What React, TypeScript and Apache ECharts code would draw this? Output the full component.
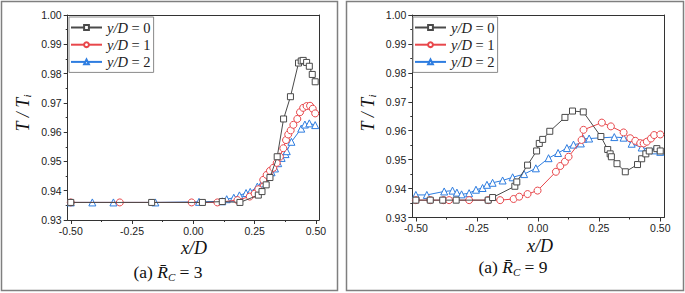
import React, { useEffect, useRef } from "react";
import * as echarts from "echarts";

// ---------- data ----------
const X_TICKS = [-0.5, -0.25, 0, 0.25, 0.5];
const X_MINOR = [-0.375, -0.125, 0.125, 0.375];
const SERIES_NAMES = ["y/D = 0", "y/D = 1", "y/D = 2"];

// Panel (a) R_C = 3
const R3_Y0: [number, number][] = [
  [-0.5, 0.936], [-0.17, 0.936], [0.037, 0.936], [0.118, 0.9363], [0.19, 0.936],
  [0.265, 0.9385], [0.28, 0.9397], [0.297, 0.942], [0.3125, 0.9445], [0.342, 0.9516],
  [0.368, 0.9645], [0.396, 0.9721], [0.429, 0.9836], [0.44, 0.9843], [0.448, 0.9845],
  [0.462, 0.9838], [0.473, 0.9825], [0.485, 0.9797], [0.497, 0.9772],
];
const R3_Y1: [number, number][] = [
  [-0.5, 0.936], [-0.3, 0.936], [-0.007, 0.936], [0.098, 0.936], [0.18, 0.9368],
  [0.23, 0.938], [0.25, 0.939], [0.265, 0.9405], [0.285, 0.9437], [0.299, 0.9454],
  [0.3125, 0.9468], [0.326, 0.9478], [0.34, 0.9495], [0.353, 0.9516], [0.367, 0.9545],
  [0.378, 0.9573], [0.387, 0.9592], [0.397, 0.9606], [0.408, 0.9625], [0.424, 0.9645],
  [0.435, 0.9668], [0.448, 0.9683], [0.462, 0.9689], [0.476, 0.969], [0.487, 0.968],
  [0.497, 0.9664],
];
const R3_Y2: [number, number][] = [
  [-0.5, 0.936], [-0.412, 0.936], [-0.326, 0.936], [-0.155, 0.936], [0.023, 0.9362],
  [0.118, 0.9364], [0.136, 0.9371], [0.165, 0.9376], [0.188, 0.9384], [0.215, 0.9392],
  [0.232, 0.9396], [0.261, 0.9414], [0.279, 0.9425], [0.289, 0.9437], [0.306, 0.945],
  [0.319, 0.9463], [0.333, 0.9476], [0.346, 0.9494], [0.36, 0.9512], [0.376, 0.9525],
  [0.381, 0.9535], [0.4, 0.9567], [0.44, 0.9612], [0.455, 0.9626], [0.473, 0.963],
  [0.497, 0.9624],
];

// Panel (a) R_C = 9
const R9_Y0: [number, number][] = [
  [-0.5, 0.936], [-0.441, 0.936], [-0.39, 0.936], [-0.335, 0.936], [-0.204, 0.936],
  [-0.186, 0.9369], [-0.095, 0.9408], [-0.087, 0.9423], [-0.043, 0.9481], [-0.006, 0.953],
  [0.005, 0.9556], [0.019, 0.957], [0.048, 0.9598], [0.11, 0.9646], [0.141, 0.9668],
  [0.185, 0.9665], [0.257, 0.958], [0.285, 0.9535], [0.295, 0.952], [0.3, 0.951],
  [0.323, 0.9486], [0.357, 0.9458], [0.407, 0.9483], [0.424, 0.9503], [0.441, 0.952],
  [0.455, 0.953], [0.486, 0.9538], [0.5, 0.953],
];
const R9_Y1: [number, number][] = [
  [-0.5, 0.936], [-0.441, 0.936], [-0.387, 0.936], [-0.364, 0.936], [-0.282, 0.936],
  [-0.204, 0.936], [-0.155, 0.936], [-0.1, 0.9364], [-0.077, 0.9372], [-0.043, 0.9381],
  [-0.002, 0.9393], [0.073, 0.9458], [0.091, 0.9478], [0.11, 0.9493], [0.125, 0.951],
  [0.178, 0.9568], [0.186, 0.9603], [0.261, 0.9628], [0.298, 0.9615], [0.35, 0.9594],
  [0.377, 0.9574], [0.398, 0.9565], [0.418, 0.9557], [0.432, 0.9556], [0.445, 0.9562],
  [0.462, 0.9573], [0.475, 0.9585], [0.5, 0.9587],
];
const R9_Y2: [number, number][] = [
  [-0.5, 0.9378], [-0.455, 0.9378], [-0.384, 0.939], [-0.35, 0.9393], [-0.332, 0.9386],
  [-0.313, 0.938], [-0.282, 0.9384], [-0.254, 0.9396], [-0.227, 0.9402], [-0.209, 0.9413],
  [-0.186, 0.942], [-0.145, 0.9428], [-0.104, 0.9439], [-0.057, 0.945], [-0.009, 0.947],
  [0.043, 0.9505], [0.082, 0.9523], [0.118, 0.954], [0.145, 0.9552], [0.175, 0.9556],
  [0.185, 0.9572], [0.209, 0.9573], [0.312, 0.9578], [0.35, 0.9576], [0.383, 0.9555],
  [0.424, 0.9542], [0.475, 0.9532], [0.5, 0.9527],
];

const COLORS = ["#4a4a4a", "#e8474b", "#2e7de0"];
const SYMBOLS = ["rect", "circle", "triangle"];
const SYMBOL_SIZES = [6, 7, 7];

const SANS = "'Liberation Sans', Arial, sans-serif";
const SERIF = "'Liberation Serif', 'Times New Roman', serif";
const AXIS_COLOR = "#333";

function axesFor(gridIndex: number, xmin: number, xmax: number) {
  const lineStyle = { color: AXIS_COLOR, width: 1 };
  const xMain = {
    gridIndex, type: "value", min: xmin, max: xmax, position: "bottom",
    axisLine: { show: true, onZero: false, lineStyle },
    axisTick: { show: true, inside: false, length: 4, customValues: X_TICKS, lineStyle },
    axisLabel: {
      show: true, customValues: X_TICKS, margin: 5, fontSize: 10.5, color: "#222",
      fontFamily: SANS, formatter: (v: number) => v.toFixed(2),
    },
    splitLine: { show: false },
  };
  const xMinor = {
    gridIndex, type: "value", min: xmin, max: xmax, position: "bottom",
    axisLine: { show: false },
    axisTick: { show: true, inside: false, length: 2, customValues: X_MINOR, lineStyle },
    axisLabel: { show: false },
    splitLine: { show: false },
  };
  const xTop = {
    gridIndex, type: "value", min: xmin, max: xmax, position: "top",
    axisLine: { show: true, onZero: false, lineStyle },
    axisTick: { show: false }, axisLabel: { show: false }, splitLine: { show: false },
  };
  const yLeft = {
    gridIndex, type: "value", min: 0.93, max: 1.0, interval: 0.01, position: "left",
    axisLine: { show: true, onZero: false, lineStyle },
    axisTick: { show: true, inside: false, length: 4, lineStyle },
    minorTick: { show: true, splitNumber: 2, length: 2, lineStyle },
    axisLabel: {
      margin: 6, fontSize: 10.5, color: "#222", fontFamily: SANS,
      formatter: (v: number) => v.toFixed(2),
    },
    splitLine: { show: false }, minorSplitLine: { show: false },
  };
  const yRight = {
    gridIndex, type: "value", min: 0.93, max: 1.0, position: "right",
    axisLine: { show: true, onZero: false, lineStyle },
    axisTick: { show: false }, axisLabel: { show: false }, splitLine: { show: false },
  };
  return { x: [xMain, xMinor, xTop], y: [yLeft, yRight] };
}

function seriesFor(datasets: [number, number][][], xAxisIndex: number, yAxisIndex: number) {
  return datasets.map((data, i) => ({
    type: "line",
    name: SERIES_NAMES[i],
    xAxisIndex, yAxisIndex,
    data,
    symbol: SYMBOLS[i],
    symbolSize: SYMBOL_SIZES[i],
    showAllSymbol: true,
    clip: false,
    lineStyle: { color: COLORS[i], width: 1 },
    itemStyle: { color: "#ffffff", borderColor: COLORS[i], borderWidth: 1 },
    z: 3 - i,
  }));
}

function legendFor(left: number, top: number) {
  return {
    orient: "vertical", left, top,
    itemWidth: 31, itemHeight: 6, itemGap: 2.2,
    padding: [3, 3, 3, 1],
    borderColor: "#8a8a8a", borderWidth: 1, backgroundColor: "#fff",
    data: SERIES_NAMES,
    formatter: (name: string) => `{i|y/D}{n| = ${name.split("= ")[1]}}`,
    textStyle: {
      color: "#222", fontSize: 14.5, lineHeight: 14, fontFamily: SERIF,
      rich: {
        i: { fontStyle: "italic", fontSize: 14.5, fontFamily: SERIF, color: "#222" },
        n: { fontSize: 14.5, fontFamily: SERIF, color: "#222" },
      },
    },
  };
}

function captionText(x: number, y: number, num: string) {
  return {
    type: "text", x, y,
    style: {
      text: `{a|(a) }{r|R\u0304}{s|C}{a| = ${num}}`,
      align: "center", verticalAlign: "middle",
      rich: {
        a: { fontSize: 17.5, fontFamily: SERIF, fill: "#111", lineHeight: 20 },
        r: { fontSize: 17.5, fontFamily: SERIF, fontStyle: "italic", fill: "#111", lineHeight: 20 },
        s: { fontSize: 11, fontFamily: SERIF, fontStyle: "italic", fill: "#111", lineHeight: 11, verticalAlign: "bottom" },
      },
    },
  };
}

function yTitle(x: number, y: number) {
  return {
    type: "text", x, y, rotation: Math.PI / 2,
    style: {
      text: "{t|T / T}{s|i}",
      align: "center", verticalAlign: "middle",
      rich: {
        t: { fontSize: 18, fontFamily: SERIF, fontStyle: "italic", fill: "#111", lineHeight: 20 },
        s: { fontSize: 11, fontFamily: SERIF, fontStyle: "italic", fill: "#111", lineHeight: 11, verticalAlign: "bottom" },
      },
    },
  };
}

function xTitle(x: number, y: number) {
  return {
    type: "text", x, y,
    style: {
      text: "x/D", align: "center", verticalAlign: "middle",
      fontSize: 18, fontFamily: SERIF, fontStyle: "italic", fill: "#111",
    },
  };
}

export default function App() {
  const ref = useRef<HTMLDivElement>(null);
  useEffect(() => {
    if (!ref.current) return;
    const chart = echarts.init(ref.current, undefined, { renderer: "svg" });
    const a = axesFor(0, -0.5125, 0.5125);
    const b = axesFor(1, -0.5145, 0.5145);
    const option = {
      animation: false,
      backgroundColor: "#ffffff",
      grid: [
        { left: 67.7, top: 15, width: 251.3, height: 205 },
        { left: 412.3, top: 15, width: 251.5, height: 202.5 },
      ],
      xAxis: [...a.x, ...b.x],
      yAxis: [...a.y, ...b.y],
      legend: [legendFor(69, 17), legendFor(413, 17)],
      series: [
        ...seriesFor([R3_Y0, R3_Y1, R3_Y2], 0, 0),
        ...seriesFor([R9_Y0, R9_Y1, R9_Y2], 3, 2),
      ],
      graphic: [
        { type: "rect", shape: { x: 1.5, y: 1.5, width: 336, height: 289 }, style: { fill: "none", stroke: "#7f7f7f", lineWidth: 1.5 } },
        { type: "rect", shape: { x: 346.5, y: 1.5, width: 337, height: 289 }, style: { fill: "none", stroke: "#7f7f7f", lineWidth: 1.5 } },
        yTitle(22.5, 113),
        yTitle(367.5, 113),
        xTitle(194, 248),
        xTitle(540, 246),
        captionText(168, 272, "3"),
        captionText(513, 267, "9"),
      ],
    };
    chart.setOption(option as any);
    return () => chart.dispose();
  }, []);
  return (
    <div
      ref={ref}
      style={{ position: "fixed", left: 0, top: 0, width: 685, height: 293 }}
    />
  );
}
